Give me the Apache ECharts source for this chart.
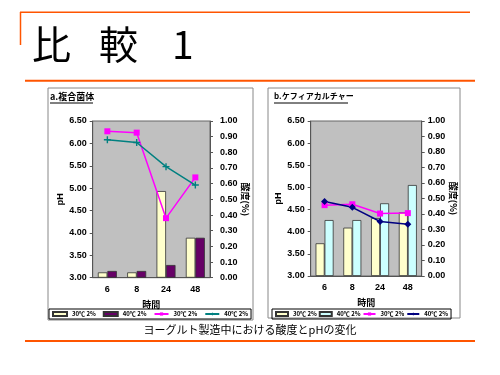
<!DOCTYPE html>
<html>
<head>
<meta charset="utf-8">
<script src="https://cdn.jsdelivr.net/npm/echarts@6/dist/echarts.min.js"></script>
<style>
  html, body { margin: 0; padding: 0; background: #fff; }
  #chart { width: 500px; height: 375px; }
</style>
</head>
<body>
<div id="chart"></div>
<script>
// 時間 (h)
const hours = ["6", "8", "24", "48"];
const phTicks = [3.0, 6.5, 0.5];     // min, max, step
const acidTicks = [0, 1.0, 0.1];

// a.複合菌体
const aBar30 = [0.034, 0.034, 0.553, 0.255];
const aBar40 = [0.043, 0.043, 0.081, 0.255];
const aLine30 = [6.27, 6.24, 4.33, 5.24];
const aLine40 = [6.08, 6.02, 5.48, 5.07];

// b.ケフィアカルチャー
const bBar30 = [0.211, 0.312, 0.374, 0.411];
const bBar40 = [0.361, 0.361, 0.469, 0.587];
const bLine30 = [4.60, 4.62, 4.41, 4.42];
const bLine40 = [4.68, 4.55, 4.23, 4.17];

const orange = "#ff5500";
const fontJP = "'Noto Sans CJK JP', 'Noto Sans', sans-serif";
const fontLbl = "'Liberation Sans', Arial, sans-serif";
const plus = "path://M4,0h2v4h4v2h-4v4h-2v-4h-4v-2h4z";

function yAxes(grid, lm, rm, lgap, rgap) {
  return [
    {
      type: "value", gridIndex: grid, position: "left",
      min: phTicks[0], max: phTicks[1], interval: phTicks[2],
      name: "pH", nameLocation: "middle", nameGap: lgap,
      nameTextStyle: { fontSize: 9, fontWeight: "bold", fontFamily: fontLbl, color: "#000" },
      axisLine: { show: true, lineStyle: { color: "#555" } },
      axisTick: { show: true, length: 3, lineStyle: { color: "#555" } },
      splitLine: { show: false },
      axisLabel: { margin: lm, fontSize: 9, fontWeight: "bold", fontFamily: fontLbl, color: "#000",
        formatter: v => v.toFixed(2) }
    },
    {
      type: "value", gridIndex: grid, position: "right",
      min: acidTicks[0], max: acidTicks[1], interval: acidTicks[2],
      name: "酸度(%)", nameLocation: "middle", nameGap: rgap, nameRotate: -90,
      nameTextStyle: { fontSize: 9, fontWeight: "bold", fontFamily: fontJP, color: "#000" },
      axisLine: { show: true, lineStyle: { color: "#555" } },
      axisTick: { show: true, length: 3, lineStyle: { color: "#555" } },
      splitLine: { show: false },
      axisLabel: { margin: rm, fontSize: 9, fontWeight: "bold", fontFamily: fontLbl, color: "#000",
        formatter: v => v.toFixed(2) }
    }
  ];
}

function xAxis(grid) {
  return {
    type: "category", gridIndex: grid, data: hours,
    name: "時間", nameLocation: "middle", nameGap: 22,
    nameTextStyle: { fontSize: 9, fontWeight: "bold", fontFamily: fontJP, color: "#000" },
    axisLine: { lineStyle: { color: "#555" } },
    axisTick: { show: false },
    axisLabel: { margin: 7, fontSize: 9, fontWeight: "bold", fontFamily: fontLbl, color: "#000" }
  };
}

function bar(name, data, color, x, y, w) {
  return {
    name, type: "bar", data, xAxisIndex: x, yAxisIndex: y,
    barWidth: w, barGap: "0%",
    itemStyle: { color, borderColor: "#333", borderWidth: 0.8 }
  };
}

function line(name, data, color, symbol, size, x, y) {
  return {
    name, type: "line", data, xAxisIndex: x, yAxisIndex: y,
    symbol, symbolSize: size,
    lineStyle: { color, width: 1.5 },
    itemStyle: { color }
  };
}

const legendBase = {
  orient: "horizontal", borderColor: "#000", borderWidth: 1, padding: [2, 3],
  itemHeight: 4, itemWidth: 14,
  textStyle: { fontSize: 6, fontWeight: "bold", fontFamily: fontJP, color: "#000" },
  formatter: n => n.replace(/\u200b/g, "")
};

const chart = echarts.init(document.getElementById("chart"), null, { renderer: "canvas" });

chart.setOption({
  animation: false,
  backgroundColor: "#fff",
  grid: [
    { left: 92.7, right: 290, top: 121, bottom: 97.3, show: true,
      backgroundColor: "#c0c0c0", borderColor: "#666", borderWidth: 1 },
    { left: 310.7, right: 78.3, top: 121, bottom: 99, show: true,
      backgroundColor: "#c0c0c0", borderColor: "#666", borderWidth: 1 }
  ],
  xAxis: [xAxis(0), xAxis(1)],
  yAxis: [...yAxes(0, 6, 10, 27, 30), ...yAxes(1, 6, 6, 23, 18)],
  legend: [
    Object.assign({}, legendBase, {
      left: 49, top: 309, itemGap: 7,
      data: [
        { name: "30℃ 2%", icon: "rect" },
        { name: "40℃ 2%", icon: "rect" },
        "30℃ 2%\u200b",
        "40℃ 2%\u200b"
      ]
    }),
    Object.assign({}, legendBase, {
      left: 272, top: 309, itemGap: 2, itemWidth: 12,
      data: [
        { name: "30℃ 2%\u200b\u200b", icon: "rect" },
        { name: "40℃ 2%\u200b\u200b", icon: "rect" },
        "30℃ 2%\u200b\u200b\u200b",
        "40℃ 2%\u200b\u200b\u200b"
      ]
    })
  ],
  series: [
    bar("30℃ 2%", aBar30, "#ffffcc", 0, 1, 9.5),
    bar("40℃ 2%", aBar40, "#660066", 0, 1, 9.5),
    line("30℃ 2%\u200b", aLine30, "#ff00ff", "rect", 6, 0, 0),
    line("40℃ 2%\u200b", aLine40, "#008080", plus, 7, 0, 0),
    bar("30℃ 2%\u200b\u200b", bBar30, "#ffffcc", 1, 3, 9),
    bar("40℃ 2%\u200b\u200b", bBar40, "#ccffff", 1, 3, 9),
    line("30℃ 2%\u200b\u200b\u200b", bLine30, "#ff00ff", "rect", 6, 1, 2),
    line("40℃ 2%\u200b\u200b\u200b", bLine40, "#000080", "diamond", 7, 1, 2)
  ],
  graphic: [
    // slide frame
    { type: "line", shape: { x1: 20, y1: 12.3, x2: 470, y2: 12.3 }, style: { stroke: orange, lineWidth: 1.5 } },
    { type: "line", shape: { x1: 20.5, y1: 12, x2: 20.5, y2: 45 }, style: { stroke: orange, lineWidth: 1.5 } },
    { type: "line", shape: { x1: 25, y1: 80.7, x2: 475, y2: 80.7 }, style: { stroke: orange, lineWidth: 2 } },
    { type: "line", shape: { x1: 25, y1: 341, x2: 475, y2: 341 }, style: { stroke: orange, lineWidth: 2 } },
    // title
    { type: "text", left: 32, top: 25, style: { text: "比", fontSize: 39, fontFamily: fontJP, fill: "#000" } },
    { type: "text", left: 99, top: 25, style: { text: "較", fontSize: 39, fontFamily: fontJP, fill: "#000" } },
    { type: "text", left: 172, top: 25, style: { text: "1", fontSize: 39, fontFamily: fontJP, fill: "#000" } },
    // panel boxes
    { type: "rect", shape: { x: 48, y: 88, width: 205, height: 232 }, style: { fill: null, stroke: "#888", lineWidth: 1 }, z: -1 },
    { type: "rect", shape: { x: 268, y: 88, width: 192, height: 230 }, style: { fill: null, stroke: "#888", lineWidth: 1 }, z: -1 },
    // panel titles
    { type: "text", left: 50, top: 92, style: { text: "a.複合菌体", fontSize: 9, fontWeight: "bold", fontFamily: fontJP, fill: "#000" } },
    { type: "line", shape: { x1: 50, y1: 103, x2: 93, y2: 103 }, style: { stroke: "#000", lineWidth: 1 } },
    { type: "text", left: 274, top: 92, style: { text: "b.ケフィアカルチャー", fontSize: 8, fontWeight: "bold", fontFamily: fontJP, fill: "#000" } },
    { type: "line", shape: { x1: 274, y1: 103, x2: 348, y2: 103 }, style: { stroke: "#000", lineWidth: 1 } },
    // caption
    { type: "text", left: "center", top: 324, style: { text: "ヨーグルト製造中における酸度とpHの変化", fontSize: 11, fontFamily: fontJP, fill: "#000" } }
  ]
});
</script>
</body>
</html>
